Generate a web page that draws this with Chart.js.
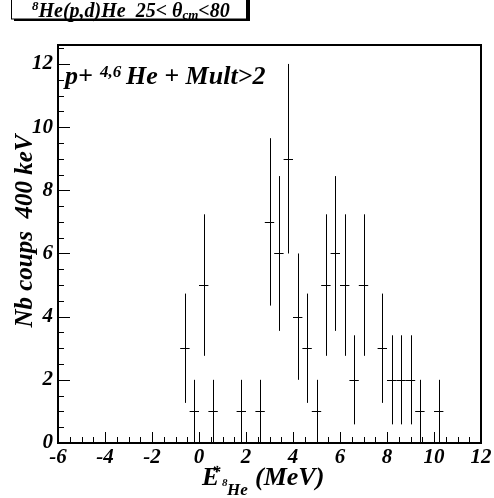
<!DOCTYPE html>
<html>
<head>
<meta charset="utf-8">
<script src="https://cdn.jsdelivr.net/npm/chart.js@4/dist/chart.umd.min.js"></script>
<style>
  html, body { margin: 0; padding: 0; background: #fff; }
  #wrap { width: 494px; height: 498px; }
</style>
</head>
<body>
<div id="wrap"><canvas id="spectrum"></canvas></div>
<script>
// 8He excitation spectrum, 400 keV bins
const binCenters = [-0.6, -0.2, 0.2, 0.6, 1.8, 2.6, 3.0, 3.4, 3.8, 4.2, 4.6, 5.0, 5.4, 5.8, 6.2, 6.6, 7.0, 7.8, 8.2, 8.6, 9.0, 9.4, 10.2];
const counts     = [3, 1, 5, 1, 1, 1, 7, 6, 9, 4, 3, 1, 5, 6, 5, 2, 5, 3, 2, 2, 2, 1, 1];
const errors     = [1.73, 1, 2.24, 1, 1, 1, 2.65, 2.45, 3, 2, 1.73, 1, 2.24, 2.45, 2.24, 1.41, 2.24, 1.73, 1.41, 1.41, 1.41, 1, 1];
const binWidth = 0.4;
const xRange = [-6, 12];
const yRange = [0, 12.6];

const serif = '"Liberation Serif", "Times New Roman", serif';
const bi = size => 'italic bold ' + size + 'px ' + serif;

// crosses: horizontal bar = bin width, vertical bar = stat error
const errorCrosses = {
    id: 'errorCrosses',
    afterDatasetsDraw(chart) {
        const {ctx, scales: {x, y}} = chart;
        ctx.save();
        ctx.strokeStyle = '#000';
        ctx.lineWidth = 1;
        chart.data.datasets[0].data.forEach(p => {
            const px = Math.round(x.getPixelForValue(p.x)) + 0.5;
            const py = Math.round(y.getPixelForValue(p.y)) + 0.5;
            const xl = x.getPixelForValue(p.x - binWidth / 2);
            const xr = x.getPixelForValue(p.x + binWidth / 2);
            const yl = y.getPixelForValue(Math.max(0, p.y - p.err));
            const yh = y.getPixelForValue(p.y + p.err);
            ctx.beginPath();
            ctx.moveTo(xl, py); ctx.lineTo(xr, py);
            ctx.moveTo(px, yl); ctx.lineTo(px, yh);
            ctx.stroke();
        });
        ctx.restore();
    }
};

// frame with inward ticks
const frame = {
    id: 'frame',
    afterDraw(chart) {
        const {ctx, chartArea: a, scales: {x, y}} = chart;
        ctx.save();
        ctx.strokeStyle = '#000';
        ctx.lineWidth = 1;
        ctx.beginPath();
        for (let v = xRange[0]; v <= xRange[1] + 1e-6; v += 0.5) {
            const px = Math.round(x.getPixelForValue(v)) + 0.5;
            const len = Math.abs(v % 2) < 1e-6 ? 11 : 6;
            ctx.moveTo(px, a.bottom); ctx.lineTo(px, a.bottom - len);
        }
        for (let v = yRange[0]; v <= yRange[1] + 1e-6; v += 0.5) {
            const py = Math.round(y.getPixelForValue(v)) + 0.5;
            const len = Math.abs(v % 2) < 1e-6 ? 12 : 6;
            ctx.moveTo(a.left, py); ctx.lineTo(a.left + len, py);
        }
        ctx.stroke();
        ctx.lineWidth = 2;
        ctx.strokeRect(a.left, a.top, a.right - a.left, a.bottom - a.top);
        ctx.restore();
    }
};

function runs(ctx, x, items) {
    items.forEach(it => {
        ctx.font = bi(it.size);
        if (it.x !== undefined) x = it.x;
        ctx.fillText(it.t, x, it.y);
        x += ctx.measureText(it.t).width;
    });
}

const labels = {
    id: 'labels',
    afterDraw(chart) {
        const ctx = chart.ctx;
        ctx.save();
        ctx.fillStyle = '#000';
        ctx.textAlign = 'left';
        ctx.textBaseline = 'alphabetic';

        // title box with drop shadow
        ctx.fillRect(14, -2, 236, 23);
        ctx.fillStyle = '#fff';
        ctx.fillRect(11, -5, 236, 24);
        ctx.strokeStyle = '#000';
        ctx.lineWidth = 1;
        ctx.strokeRect(11.5, -5, 235, 24);
        ctx.fillStyle = '#000';
        runs(ctx, 32, [
            {t: '8', size: 13, y: 10},
            {t: 'He(p,d)He  25< \u03b8', size: 20, y: 17},
            {t: 'cm', size: 13, y: 19},
            {t: '<80', size: 20, y: 17}
        ]);

        // selection label inside the frame
        runs(ctx, 65, [
            {t: 'p+', size: 26, y: 84},
            {t: '4,6', size: 17, y: 77, x: 100},
            {t: 'He + Mult>2', size: 26, y: 84, x: 126}
        ]);

        // x title
        runs(ctx, 202, [
            {t: 'E', size: 26, y: 485},
            {t: '*', size: 17, y: 477, x: 212},
            {t: '8', size: 11, y: 486, x: 222},
            {t: 'He', size: 17, y: 495, x: 227},
            {t: '(MeV)', size: 26, y: 485, x: 255}
        ]);

        // y title
        ctx.translate(32, 231);
        ctx.rotate(-Math.PI / 2);
        ctx.textAlign = 'center';
        ctx.font = bi(25);
        ctx.fillText('Nb coups  400 keV', 0, 0);
        ctx.restore();
    }
};

const tickFont = {family: serif, size: 21, weight: 'bold', style: 'italic'};

const spec = document.getElementById('spectrum').getContext('2d');
const spectrumChart = new Chart(spec, {
    type: 'scatter',
    data: {
        datasets: [{
            data: binCenters.map((c, i) => ({x: c, y: counts[i], err: errors[i]})),
            pointRadius: 0,
            showLine: false
        }]
    },
    options: {
        responsive: true,
        maintainAspectRatio: false,
        animation: false,
        layout: {padding: {top: 45, right: 13, left: 0, bottom: 0}},
        plugins: {legend: {display: false}, tooltip: {enabled: false}},
        scales: {
            x: {
                type: 'linear',
                min: xRange[0],
                max: xRange[1],
                grid: {display: false, drawTicks: false},
                border: {display: false},
                ticks: {stepSize: 2, color: '#000', font: tickFont, padding: 2, maxRotation: 0},
                afterFit: s => { s.height = 55; }
            },
            y: {
                min: yRange[0],
                max: yRange[1],
                grid: {display: false, drawTicks: false},
                border: {display: false},
                ticks: {stepSize: 2, includeBounds: false, color: '#000', font: tickFont, padding: 5},
                afterFit: s => { s.width = 58; }
            }
        }
    },
    plugins: [errorCrosses, frame, labels]
});
</script>
</body>
</html>
